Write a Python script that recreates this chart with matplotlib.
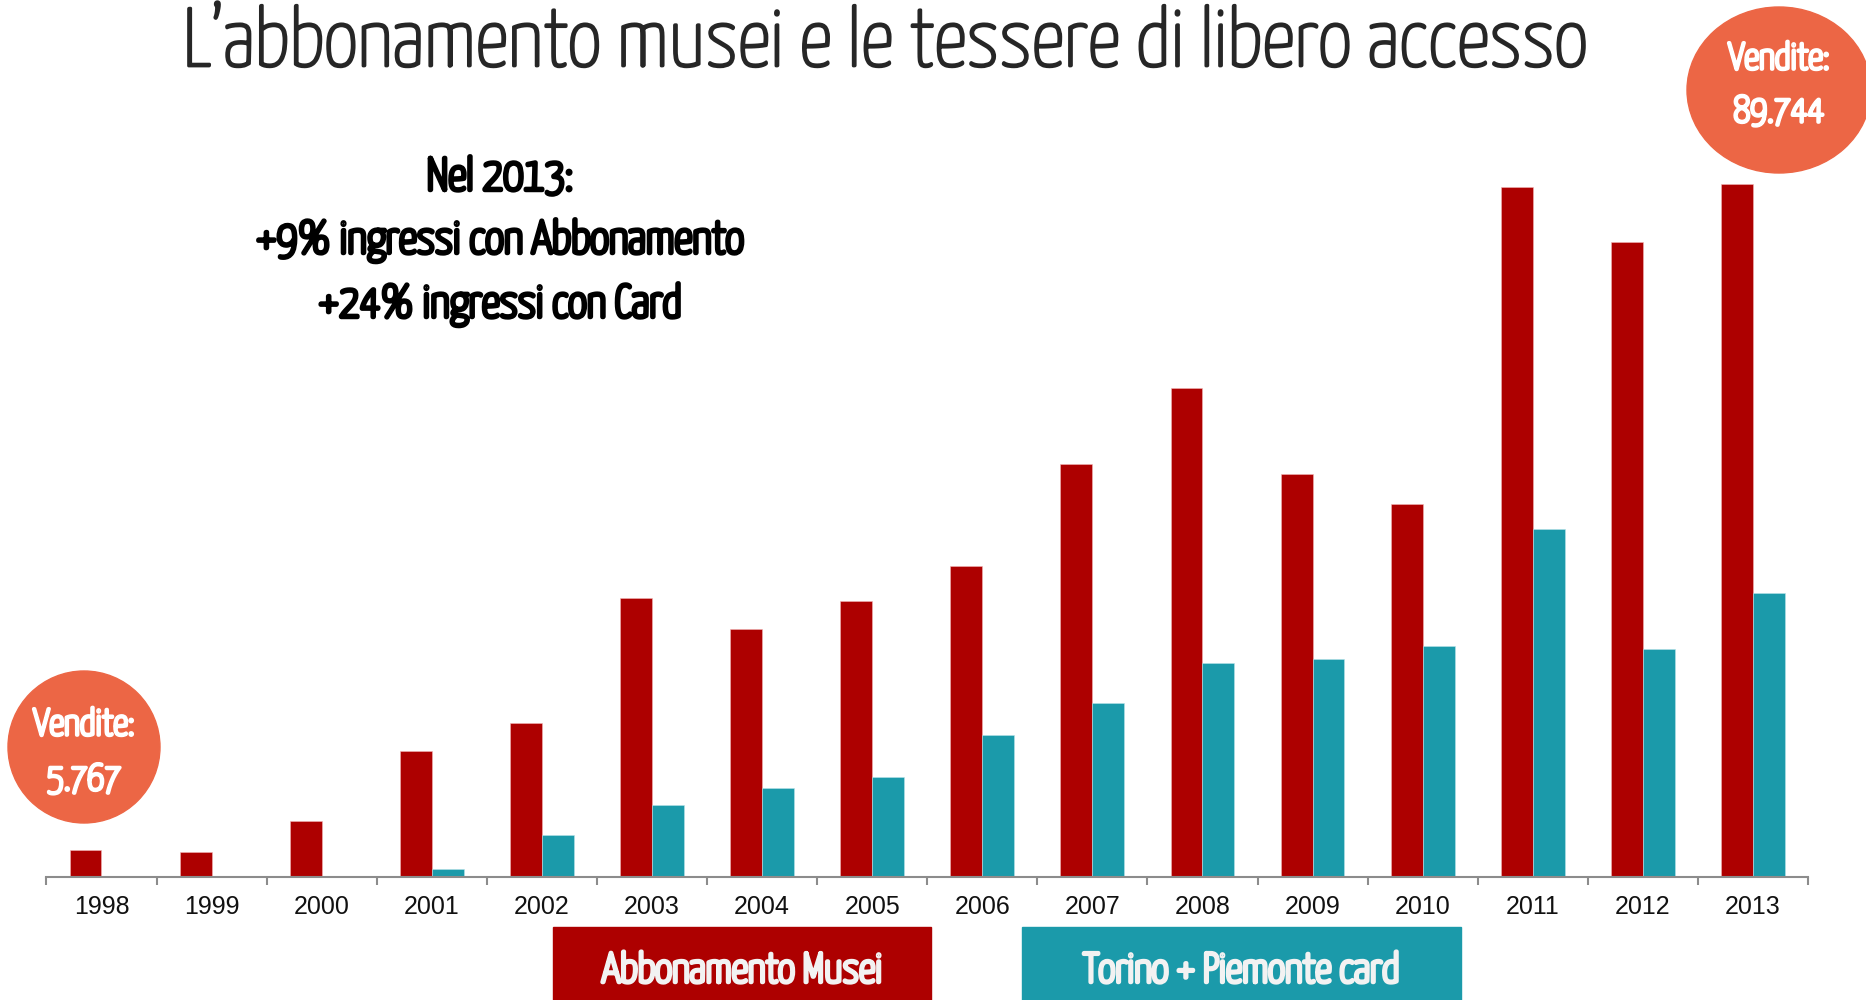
import numpy as np
import matplotlib
matplotlib.use("Agg")
import matplotlib.pyplot as plt
from matplotlib.patches import Ellipse, Rectangle
import matplotlib.patheffects as pe

# Data (bar heights, roughly thousands of entries)
years = ["1998", "1999", "2000", "2001", "2002", "2003", "2004", "2005",
         "2006", "2007", "2008", "2009", "2010", "2011", "2012", "2013"]
abbonamento = [27, 25, 56, 126, 154, 279, 248, 276, 311, 413, 489, 403, 373, 690, 635, 693]
card = [0, 0, 0, 8, 42, 72, 89, 100, 142, 174, 214, 218, 231, 348, 228, 284]
series_names = ["Abbonamento Musei", "Torino + Piemonte card"]
title = "L\u2019abbonamento musei e le tessere di libero accesso"
note_lines = ["Nel 2013:", "+9% ingressi con Abbonamento", "+24% ingressi con Card"]
vendite_first = "5.767"
vendite_last = "89.744"

RED = "#ad0000"
TEAL = "#1b9aaa"
ORANGE = "#ec6645"
COND = "Yanone Kaffeesatz"

W, H = 1866, 1000
fig = plt.figure(figsize=(W / 100, H / 100), dpi=100)
fig.patch.set_facecolor("white")

# axes placed so the category boundaries match the original
left, right, base = 46.4, 1808, 877
ax = fig.add_axes([left / W, (H - base) / H, (right - left) / W, 0.8])
x = np.arange(len(years))
bw = 0.29
ax.bar(x - bw / 2, abbonamento, bw, color=RED, edgecolor="#f3b6b6", linewidth=0.4, zorder=2)
ax.bar(x + bw / 2, card, bw, color=TEAL, edgecolor="#b8e2e8", linewidth=0.4, zorder=2)
ax.set_xlim(-0.5, len(years) - 0.5)
ax.set_ylim(0, 800)

for s in ["top", "left", "right"]:
    ax.spines[s].set_visible(False)
ax.spines["bottom"].set_color("#8c8c8c")
ax.spines["bottom"].set_linewidth(1.5)
ax.set_yticks([])
ax.set_xticks(x)
ax.set_xticklabels(years, fontsize=18, family="Liberation Sans", color="#111111")
ax.tick_params(axis="x", which="major", length=0, pad=13)
ax.set_xticks(np.arange(len(years) + 1) - 0.5, minor=True)
ax.tick_params(axis="x", which="minor", length=6, width=1.5, color="#8c8c8c")

def bold(lw, col):
    # Yanone is only installed in its light weight: thicken it with a stroke
    return [pe.withStroke(linewidth=lw, foreground=col)]

# title
fig.text(885 / W, 1 - 66 / H, title, ha="center", va="baseline", fontsize=59.5,
         family=COND, color="#262626", path_effects=bold(2.0, "#262626"))

# note
note_y = [190, 253, 317]
for line, yy in zip(note_lines, note_y):
    fig.text(500 / W, 1 - yy / H, line, ha="center", va="baseline", fontsize=33,
             family=COND, color="black", path_effects=bold(3.2, "black"))

# sales bubbles
fig.patches.append(Ellipse((84 / W, 1 - 747 / H), 152 / W, 152 / H, color=ORANGE,
                           transform=fig.transFigure, zorder=3))
fig.text(84 / W, 1 - 725 / H, "Vendite:", ha="center", va="center", fontsize=27,
         family=COND, color="white", path_effects=bold(2.6, "white"), zorder=4)
fig.text(84 / W, 1 - 780 / H, vendite_first, ha="center", va="center", fontsize=27,
         family=COND, color="white", path_effects=bold(2.6, "white"), zorder=4)

fig.patches.append(Ellipse((1779 / W, 1 - 90 / H), 184 / W, 166 / H, color=ORANGE,
                           transform=fig.transFigure, zorder=3))
fig.text(1779 / W, 1 - 59 / H, "Vendite:", ha="center", va="center", fontsize=27,
         family=COND, color="white", path_effects=bold(2.6, "white"), zorder=4)
fig.text(1779 / W, 1 - 112 / H, vendite_last, ha="center", va="center", fontsize=27,
         family=COND, color="white", path_effects=bold(2.6, "white"), zorder=4)

# legend boxes at the bottom
boxes = [(553, 931, RED), (1022, 1461, TEAL)]
for name, (x0, x1, col) in zip(series_names, boxes):
    fig.patches.append(Rectangle((x0 / W, 0), (x1 - x0) / W, (H - 927) / H, color=col,
                                 transform=fig.transFigure, zorder=3))
    fig.text((x0 + x1) / 2 / W, 1 - 971 / H, name, ha="center", va="center", fontsize=30,
             family=COND, color="#f2f2f2", path_effects=bold(3.0, "#f2f2f2"), zorder=4)

fig.savefig("out.png", dpi=100)
